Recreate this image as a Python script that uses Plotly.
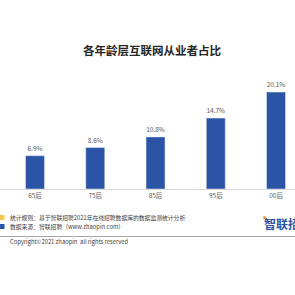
import plotly.graph_objects as go

categories = ["65后", "75后", "85后", "95后", "00后"]
values = [6.9, 8.6, 10.8, 14.7, 20.1]
labels = ["6.9%", "8.6%", "10.8%", "14.7%", "20.1%"]
title_text = "各年龄层互联网从业者占比"
note1 = "统计规则：基于智联招聘2021年在线招聘数据库的数据监测统计分析"
note2 = "数据来源：智联招聘（www.zhaopin.com）"
copyright_text = "Copyright©2021 zhaopin  all rights reserved"
logo_text = "智联招"

W = H = 295
BLUE = "#2B54A6"
YELLOW = "#F6C944"
FONT = "Noto Sans CJK SC"

def px(x):
    return x / W

def py(y):
    return 1 - y / H

fig = go.Figure(go.Bar(
    x=categories, y=values, text=labels, textposition="outside",
    marker_color=BLUE, width=0.315, cliponaxis=False,
    textfont=dict(size=6.5, color="#595959", family=FONT),
))

fig.update_layout(
    width=W, height=H, margin=dict(l=0, r=0, t=0, b=0),
    paper_bgcolor="white", plot_bgcolor="white", showlegend=False,
    font=dict(family=FONT),
    xaxis=dict(range=[-0.581, 4.315], domain=[0, 1], showline=True,
               linecolor="#D9D9D9", linewidth=1, ticks="", showgrid=False,
               tickfont=dict(size=6.5, color="#595959", family=FONT)),
    yaxis=dict(range=[0, 22.6], domain=[py(189), py(80)], visible=False,
               showgrid=False, zeroline=False),
)

ann = [
    dict(text="<b>" + title_text + "</b>", x=px(152), y=py(50), xanchor="center", yanchor="middle",
         font=dict(size=11.5, color="#262626", family=FONT)),
    dict(text=note1, x=px(8), y=py(217.5), xanchor="left", yanchor="middle",
         font=dict(size=5.8, color="#404040", family=FONT)),
    dict(text=note2, x=px(8), y=py(226.5), xanchor="left", yanchor="middle",
         font=dict(size=5.8, color="#404040", family=FONT)),
    dict(text=copyright_text, x=px(8), y=py(242), xanchor="left", yanchor="middle",
         font=dict(size=5.8, color="#404040", family=FONT)),
    dict(text="<b>" + logo_text + "</b>", x=px(262), y=py(223), xanchor="left", yanchor="middle",
         font=dict(size=12, color=BLUE, family=FONT)),
]
for a in ann:
    a.update(xref="paper", yref="paper", showarrow=False)
fig.update_layout(annotations=ann)

shapes = [
    dict(type="rect", x0=px(0), x1=px(4.5), y0=py(220), y1=py(215), fillcolor=YELLOW, line_width=0),
    dict(type="rect", x0=px(0), x1=px(4.5), y0=py(229), y1=py(224), fillcolor=BLUE, line_width=0),
    dict(type="line", x0=px(0), x1=px(295), y0=py(236.5), y1=py(236.5), line=dict(color="#A6A6A6", width=1.2)),
    dict(type="circle", x0=px(263), x1=px(266), y0=py(219), y1=py(216), fillcolor="#F39A1E", line_width=0),
]
for s in shapes:
    s.update(xref="paper", yref="paper")
fig.update_layout(shapes=shapes)

fig.write_html("out.html")
